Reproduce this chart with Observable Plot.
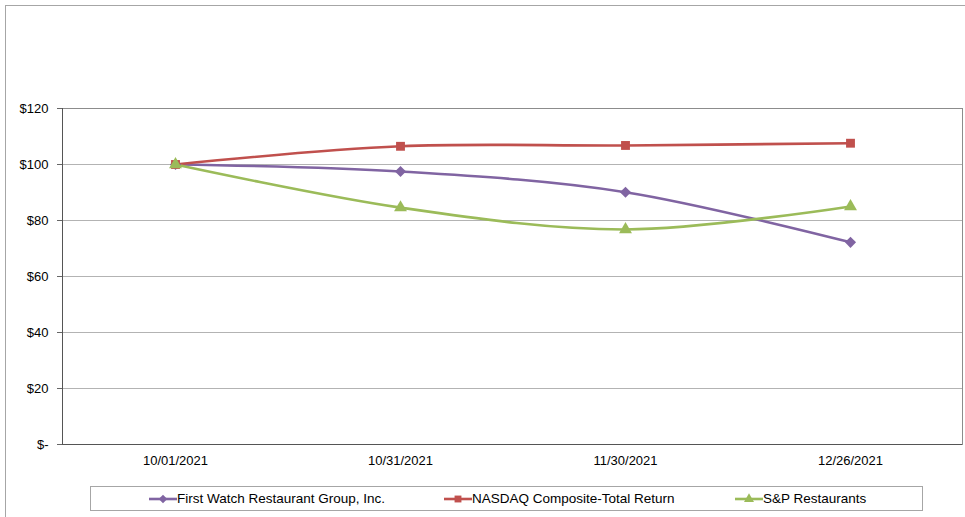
<!DOCTYPE html>
<html>
<head>
<meta charset="utf-8">
<script src="https://cdn.jsdelivr.net/npm/d3@7"></script>
<script src="https://cdn.jsdelivr.net/npm/@observablehq/plot@0.6"></script>
<style>
  html, body { margin: 0; padding: 0; background: #fff; }
  body { width: 965px; height: 517px; overflow: hidden; position: relative; font-family: "Liberation Sans", Arial, sans-serif; }
  #frame { position: absolute; left: 5px; top: 5px; width: 1200px; height: 800px; border: 1px solid #a6a6a6; box-sizing: border-box; }
  #chart { position: absolute; left: 0; top: 0; }
  #legend { position: absolute; left: 90px; top: 486px; width: 833px; height: 25px; border: 1px solid #a6a6a6; box-sizing: border-box; font-size: 13.5px; color: #000; }
  .item { position: absolute; top: 0; height: 23px; display: flex; align-items: center; white-space: nowrap; }
</style>
</head>
<body>
<div id="frame"></div>
<div id="chart"></div>
<div id="legend"></div>
<script>
const dates = ["10/01/2021", "10/31/2021", "11/30/2021", "12/26/2021"];
const seriesNames = ["First Watch Restaurant Group, Inc.", "NASDAQ Composite-Total Return", "S&P Restaurants"];
const firstWatch = [100, 97.5, 90.1, 72.2];
const nasdaq = [100, 106.5, 106.8, 107.6];
const spRestaurants = [100, 84.6, 76.8, 85.0];
const yTicks = [0, 20, 40, 60, 80, 100, 120];
const colors = ["#8064a2", "#c0504d", "#9bbb59"];
const symbols = ["diamond2", "square", "triangle"];
const radii = [5.0, 5.0, 4.8];

const allValues = [firstWatch, nasdaq, spRestaurants];
const data = [];
seriesNames.forEach((s, i) => dates.forEach((d, j) => data.push({series: s, date: d, value: allValues[i][j]})));

const W = 965, H = 478;
const curve = d3.curveCatmullRom.alpha(0);

const marks = [
  Plot.gridY(yTicks, {stroke: "#b3b3b3", strokeOpacity: 1, strokeWidth: 1}),
  Plot.frame({stroke: "#8c8c8c"}),
  Plot.axisY(yTicks, {label: null, tickSize: 5, tickPadding: 9, tickFormat: d => d === 0 ? "$-" : "$" + d, fontSize: 13, stroke: "#666", fill: "#000"}),
  Plot.axisX(dates, {label: null, tickSize: 0, tickPadding: 11, fontSize: 13, fill: "#000"}),
];
seriesNames.forEach((s, i) => {
  const rows = data.filter(d => d.series === s);
  marks.push(Plot.line(rows, {x: "date", y: "value", stroke: colors[i], strokeWidth: 2.6, curve}));
});
seriesNames.forEach((s, i) => {
  const rows = data.filter(d => d.series === s);
  marks.push(Plot.dot(rows, {x: "date", y: "value", fill: colors[i], stroke: "none", symbol: symbols[i], r: radii[i]}));
});

const chart = Plot.plot({
  width: W,
  height: H,
  marginLeft: 62,
  marginRight: 3,
  marginTop: 108,
  marginBottom: H - 444,
  style: {fontFamily: "Liberation Sans, Arial, sans-serif", fontSize: "13px", background: "transparent", overflow: "visible"},
  x: {type: "point", domain: dates, padding: 0.5, axis: null},
  y: {domain: [0, 120], axis: null},
  marks
});
// axis lines (left + bottom), darker
const svg = d3.select(chart);
svg.append("line").attr("x1", 62.5).attr("x2", 62.5).attr("y1", 108).attr("y2", 444).attr("stroke", "#555");
svg.append("line").attr("x1", 62).attr("x2", 962).attr("y1", 444.5).attr("y2", 444.5).attr("stroke", "#555");
document.getElementById("chart").appendChild(chart);

// legend
const legend = document.getElementById("legend");
const itemLeft = [58, 353, 644];
const legendSyms = [d3.symbolDiamond2, d3.symbolSquare, d3.symbolTriangle];
seriesNames.forEach((s, i) => {
  const div = document.createElement("div");
  div.className = "item";
  div.style.left = itemLeft[i] + "px";
  const sym = d3.symbol(legendSyms[i], Math.PI * radii[i] * radii[i] * 0.6)();
  div.innerHTML = `<svg width="28" height="12"><line x1="0" x2="28" y1="6" y2="6" stroke="${colors[i]}" stroke-width="2.6"/><path transform="translate(14,6)" d="${sym}" fill="${colors[i]}"/></svg>`;
  const t = document.createElement("span");
  t.textContent = s;
  div.appendChild(t);
  legend.appendChild(div);
});
</script>
</body>
</html>
